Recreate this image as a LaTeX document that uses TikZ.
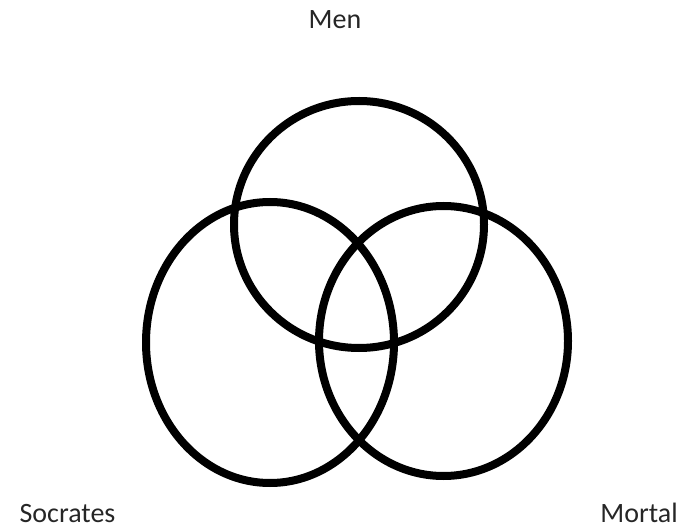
\documentclass[tikz,border=0pt]{standalone}
\usepackage{fontspec}
\setmainfont{Carlito}
\begin{document}
\begin{tikzpicture}[x=1pt,y=-1pt,
  ring/.style={draw=black,line width=8pt},
  lbl/.style={anchor=base,inner sep=0pt,font=\fontsize{28}{30}\selectfont,text=black!85}]
\useasboundingbox (0,0) rectangle (688,529);
\draw[ring] (359,224.5) ellipse [x radius=125, y radius=123.5];
\draw[ring] (270,342.5) ellipse [x radius=124, y radius=140.5];
\draw[ring] (443.5,341) ellipse [x radius=124.5, y radius=135];
\node[lbl] (men) at (335,29) {Men};
\node[lbl] (socrates) at (67.5,522) {Socrates};
\node[lbl] (mortal) at (639,522) {Mortal};
\end{tikzpicture}
\end{document}
